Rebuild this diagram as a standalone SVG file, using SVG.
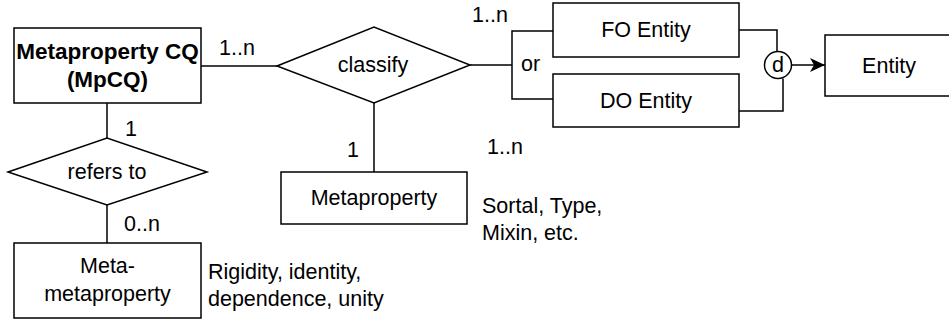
<svg xmlns="http://www.w3.org/2000/svg" width="949" height="325" viewBox="0 0 949 325">
<defs>
<style>
.s{fill:#fff;stroke:#000;stroke-width:1.5}
.l{fill:none;stroke:#000;stroke-width:1.5}
text{font-family:"Liberation Sans",Arial,sans-serif;font-size:21.5px;fill:#000}
.c{text-anchor:middle}
.b{font-weight:bold;font-size:22.5px}
</style>
<marker id="arr" viewBox="0 0 15 14" refX="15" refY="7" markerWidth="15" markerHeight="14" markerUnits="userSpaceOnUse" orient="auto">
<path d="M0,0 L15,7 L0,14 L4,7 Z" fill="#000"/>
</marker>
</defs>
<g id="connectors">
<line class="l" x1="201" y1="66" x2="277" y2="66"/>
<line class="l" x1="107" y1="103" x2="107" y2="138"/>
<line class="l" x1="107" y1="205" x2="107" y2="243"/>
<line class="l" x1="374" y1="103" x2="374" y2="172"/>
<polyline class="l" points="470,65 512,65"/>
<polyline class="l" points="553,31 512,31 512,99 553,99"/>
<polyline class="l" points="739,30 777,30 777,51.5"/>
<polyline class="l" points="739,111 783,111 783,78.5"/>
<line class="l" x1="792" y1="65" x2="825" y2="65" marker-end="url(#arr)"/>
<text x="219" y="55">1..n</text>
<text x="125" y="136">1</text>
<text x="124" y="231">0..n</text>
<text x="347" y="157">1</text>
<text x="472" y="22">1..n</text>
<text x="487" y="154">1..n</text>
<text x="521" y="71">or</text>
</g>
<g id="mpcq">
<rect class="s" x="14" y="28" width="187" height="75"/>
<text class="c b" x="107.5" y="59">Metaproperty CQ</text>
<text class="c b" x="107.5" y="87">(MpCQ)</text>
</g>
<g id="classify">
<polygon class="s" points="277,66 374,27 470,65 374,103"/>
<text class="c" x="373" y="72">classify</text>
</g>
<g id="refers">
<polygon class="s" points="8,172 107,138 207,172 107,205"/>
<text class="c" x="107" y="179">refers to</text>
</g>
<g id="metameta">
<rect class="s" x="14" y="243" width="187" height="75"/>
<text class="c" x="107.5" y="273">Meta-</text>
<text class="c" x="107.5" y="301">metaproperty</text>
<text x="208" y="279">Rigidity, identity,</text>
<text x="208" y="306">dependence, unity</text>
</g>
<g id="metaproperty">
<rect class="s" x="281" y="172" width="186" height="52"/>
<text class="c" x="374" y="205">Metaproperty</text>
<text x="482" y="213">Sortal, Type,</text>
<text x="482" y="240">Mixin, etc.</text>
</g>
<g id="fo">
<rect class="s" x="553" y="3" width="186" height="54"/>
<text class="c" x="646" y="37">FO Entity</text>
</g>
<g id="do">
<rect class="s" x="553" y="74" width="186" height="53"/>
<text class="c" x="646" y="108">DO Entity</text>
</g>
<g id="d">
<circle class="s" cx="778" cy="65" r="13.5"/>
<text class="c" x="778" y="72">d</text>
</g>
<g id="entity">
<rect class="s" x="825" y="35" width="130" height="61"/>
<text class="c" x="889" y="73">Entity</text>
</g>
</svg>
